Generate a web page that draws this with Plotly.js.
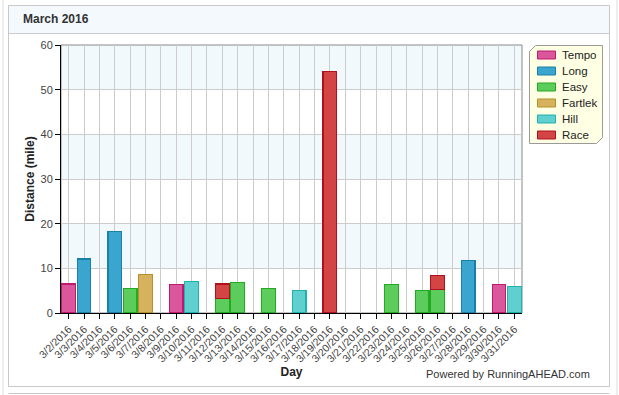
<!DOCTYPE html>
<html>
<head>
<meta charset="utf-8">
<script src="https://cdn.plot.ly/plotly-3.0.1.min.js"></script>
<style>
html,body{margin:0;padding:0;background:#fff;}
#chart{width:619px;height:395px;}
</style>
</head>
<body>
<div id="chart"></div>
<script>
var days = ["3/2/2016","3/3/2016","3/4/2016","3/5/2016","3/6/2016","3/7/2016","3/8/2016","3/9/2016","3/10/2016","3/11/2016",
            "3/12/2016","3/13/2016","3/14/2016","3/15/2016","3/16/2016","3/17/2016","3/18/2016","3/19/2016","3/20/2016","3/21/2016",
            "3/22/2016","3/23/2016","3/24/2016","3/25/2016","3/26/2016","3/27/2016","3/28/2016","3/29/2016","3/30/2016","3/31/2016"];
//               2    3    4    5    6    7    8    9    10   11   12   13   14   15   16   17   18   19   20   21   22   23   24   25   26   27   28   29   30   31
var tempo   = [6.5,null,null,null,null,null,null,6.3,null,null,null,null,null,null,null,null,null,null,null,null,null,null,null,null,null,null,null,null,6.3,null];
var longRun = [null,12.1,null,18.2,null,null,null,null,null,null,null,null,null,null,null,null,null,null,null,null,null,null,null,null,null,null,11.7,null,null,null];
var easy    = [null,null,null,null,5.4,null,null,null,null,null,3.3,6.9,null,5.5,null,null,null,null,null,null,null,6.4,null,5.1,5.2,null,null,null,null,null];
var fartlek = [null,null,null,null,null,8.6,null,null,null,null,null,null,null,null,null,null,null,null,null,null,null,null,null,null,null,null,null,null,null,null];
var hill    = [null,null,null,null,null,null,null,null,7.0,null,null,null,null,null,null,5.1,null,null,null,null,null,null,null,null,null,null,null,null,null,6.0];
var race    = [null,null,null,null,null,null,null,null,null,null,3.2,null,null,null,null,null,null,54.0,null,null,null,null,null,null,3.2,null,null,null,null,null];

var seriesNames = ["Tempo","Long","Easy","Fartlek","Hill","Race"];
var seriesData = [tempo,longRun,easy,fartlek,hill,race];
var fills   = ["#d9579a","#3aa6cf","#5ccc5c","#d6b25e","#5fcfcf","#d34545"];
var borders = ["#c0186e","#1a80a8","#22aa22","#b88f2a","#1fb0b0","#b0101e"];

var W = 619, H = 395;
var L = 61, R = 522, T = 45, B = 313;
function px(x){ return (x - L) / (R - L); }
function py(y){ return (B - y) / (B - T); }

var traces = seriesNames.map(function(n, i){
  return {
    type: "bar", name: n, x: days, y: seriesData[i],
    marker: {color: fills[i], line: {color: borders[i], width: 1.2}},
    hoverinfo: "x+y+name", showlegend: false
  };
});

var shapes = [];
var annotations = [];
// outer faint lines
shapes.push({type:"line", xref:"paper", yref:"paper", x0:px(3), x1:px(3), y0:py(0), y1:py(395), line:{color:"#dddddd", width:1}, layer:"below"});
shapes.push({type:"line", xref:"paper", yref:"paper", x0:px(617), x1:px(617), y0:py(0), y1:py(395), line:{color:"#dddddd", width:1}, layer:"below"});
// header background
shapes.push({type:"rect", xref:"paper", yref:"paper", x0:px(9), x1:px(609), y0:py(6), y1:py(33), fillcolor:"#f3f9fd", line:{width:0}, layer:"below"});
// header separator
shapes.push({type:"line", xref:"paper", yref:"paper", x0:px(9), x1:px(609), y0:py(33.5), y1:py(33.5), line:{color:"#c8ccd0", width:1}, layer:"below"});
// panel border
shapes.push({type:"rect", xref:"paper", yref:"paper", x0:px(8.5), x1:px(609.5), y0:py(5.5), y1:py(386.5), line:{color:"#c8c8c8", width:1}, layer:"below"});
// next panel top
shapes.push({type:"line", xref:"paper", yref:"paper", x0:px(8.5), x1:px(609.5), y0:py(393.5), y1:py(393.5), line:{color:"#c8c8c8", width:1}, layer:"below"});
// horizontal bands
[[10,20],[30,40],[50,60]].forEach(function(b){
  shapes.push({type:"rect", xref:"paper", yref:"y", x0:0, x1:1, y0:b[0], y1:b[1], fillcolor:"#f2f9fd", line:{width:0}, layer:"below"});
});
// plot frame (top/right)
shapes.push({type:"rect", xref:"paper", yref:"paper", x0:0, x1:1, y0:0, y1:1, line:{color:"#888888", width:1}, layer:"below"});

// custom legend box with cut corners
(function(){
  var x0 = 529.5, x1 = 602.5, y0 = 45.5, y1 = 143.5, c = 6;
  var pts = [[x0+c,y0],[x1,y0],[x1,y1-c],[x1-c,y1],[x0,y1],[x0,y0+c]];
  var d = "M" + pts.map(function(p){ return px(p[0]) + "," + py(p[1]); }).join(" L") + " Z";
  shapes.push({type:"path", xref:"paper", yref:"paper", path:d, fillcolor:"#ffffe3", line:{color:"#9a9a9a", width:1}, layer:"above"});
  var rowY = [55, 71, 87, 103, 119, 135];
  seriesNames.forEach(function(n, i){
    var yc = rowY[i];
    shapes.push({type:"rect", xref:"paper", yref:"paper", x0:px(537.5), x1:px(555.5), y0:py(yc-4), y1:py(yc+4),
                 fillcolor:fills[i], line:{color:borders[i], width:1}, layer:"above"});
    annotations.push({xref:"paper", yref:"paper", x:px(560), y:py(yc), xanchor:"left", yanchor:"middle", showarrow:false,
                      text:n, font:{size:11.5, color:"#222"}});
  });
})();

annotations.push({xref:"paper", yref:"paper", x:px(21), y:py(19), xanchor:"left", yanchor:"middle", showarrow:false,
   text:"<b>March 2016</b>", font:{size:12, color:"#333"}});
annotations.push({xref:"paper", yref:"paper", x:px(592), y:py(374), xanchor:"right", yanchor:"middle", showarrow:false,
   text:"Powered by RunningAHEAD.com", font:{size:11, color:"#333"}});

var layout = {
  width: W, height: H,
  margin: {l: L, r: W - R, t: T, b: H - B, pad: 0},
  paper_bgcolor: "rgba(0,0,0,0)",
  plot_bgcolor: "rgba(0,0,0,0)",
  font: {family: "Liberation Sans, Arial, sans-serif", size: 11, color: "#333"},
  barmode: "stack",
  bargap: 0.11,
  showlegend: false,
  xaxis: {
    type: "category", tickangle: -45,
    ticks: "outside", ticklen: 5, tickcolor: "#000", tickwidth: 1,
    showline: true, linecolor: "#000", linewidth: 1,
    showgrid: true, gridcolor: "#cccccc", gridwidth: 1,
    tickfont: {size: 10.5, color: "#444"},
    title: {text: "Day", font: {size: 12, color: "#222", weight: "bold"}, standoff: 4},
    fixedrange: true
  },
  yaxis: {
    range: [0, 60], dtick: 10,
    ticks: "outside", ticklen: 5, tickcolor: "#000", tickwidth: 1,
    showline: true, linecolor: "#000", linewidth: 1,
    showgrid: true, gridcolor: "#cccccc", gridwidth: 1, zeroline: false,
    tickfont: {size: 11, color: "#444"},
    title: {text: "Distance (mile)", font: {size: 12, color: "#222", weight: "bold"}, standoff: 3},
    fixedrange: true
  },
  shapes: shapes,
  annotations: annotations
};

Plotly.newPlot("chart", traces, layout, {displayModeBar: false, staticPlot: true});
</script>
</body>
</html>
